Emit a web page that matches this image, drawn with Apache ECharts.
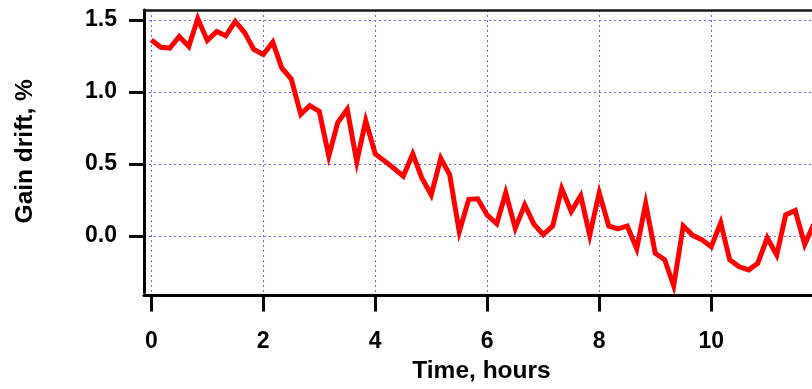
<!DOCTYPE html>
<html>
<head>
<meta charset="utf-8">
<script src="https://cdn.jsdelivr.net/npm/echarts@6/dist/echarts.min.js"></script>
<style>
html,body{margin:0;padding:0;background:#fff;}
#chart{width:812px;height:389px;}
</style>
</head>
<body>
<div id="chart"></div>
<script>
// Time in hours
const timeHours = [0,0.17,0.33,0.5,0.67,0.83,1,1.17,1.33,1.5,1.67,1.83,
  2,2.17,2.33,2.5,2.67,2.83,3,3.17,3.33,3.5,3.67,3.83,
  4,4.17,4.33,4.5,4.67,4.83,5,5.17,5.33,5.5,5.67,5.83,
  6,6.17,6.33,6.5,6.67,6.83,7,7.17,7.33,7.5,7.67,7.83,
  8,8.17,8.33,8.5,8.67,8.83,9,9.17,9.33,9.5,9.67,9.83,
  10,10.17,10.33,10.5,10.67,10.83,11,11.17,11.33,11.5,11.67,11.83];
// Gain drift in %
const gainDrift = [1.36,1.31,1.305,1.385,1.316,1.51,1.358,1.42,1.39,1.49,1.41,1.295,
  1.26,1.345,1.167,1.09,0.845,0.905,0.865,0.555,0.787,0.88,0.515,0.80,
  0.57,0.52,0.47,0.415,0.57,0.405,0.285,0.54,0.425,0.03,0.255,0.258,
  0.145,0.085,0.30,0.055,0.216,0.085,0.01,0.07,0.33,0.17,0.28,0.005,
  0.30,0.07,0.05,0.07,-0.088,0.225,-0.12,-0.165,-0.345,0.07,0.005,-0.025,
  -0.075,0.092,-0.165,-0.214,-0.235,-0.19,-0.012,-0.132,0.147,0.177,-0.058,0.08];
const xTicks = [0,2,4,6,8,10,12];
const yTicks = [0,0.5,1.0,1.5];

const chart = echarts.init(document.getElementById('chart'), null, {renderer:'canvas'});
const FONT = 'Liberation Sans, Arial, sans-serif';
function gridLine(){ return {show:true, lineStyle:{color:'#6666ff', width:1, type:[2,3], opacity:1}}; }

chart.setOption({
  animation:false,
  backgroundColor:'#ffffff',
  grid:{left:144, right:0, top:10, bottom:95, containLabel:false},
  xAxis:[{
    type:'value', min:-0.13, max:11.8, position:'bottom', offset:3,
    name:'Time, hours', nameLocation:'middle', nameGap:68,
    nameTextStyle:{fontFamily:FONT, fontWeight:'bold', fontSize:24.5, lineHeight:16, color:'#000', padding:[0,0,0,7]},
    axisLine:{show:true, onZero:false, lineStyle:{color:'#000', width:3}},
    axisTick:{show:true, inside:false, length:16, lineStyle:{color:'#000', width:3}, customValues:xTicks},
    axisLabel:{show:true, margin:35, fontFamily:FONT, fontWeight:'bold', fontSize:23, color:'#000', customValues:xTicks,
      formatter:function(v){return String(v);}},
    splitLine:gridLine()
  },{
    type:'value', min:-0.13, max:11.8, position:'top',
    axisLine:{show:true, onZero:false, lineStyle:{color:'#1a1a1a', width:2.5}},
    axisTick:{show:false}, axisLabel:{show:false}, splitLine:{show:false}
  }],
  yAxis:{
    type:'value', min:-0.392, max:1.569,
    name:'Gain drift, %', nameLocation:'middle', nameGap:106,
    nameTextStyle:{fontFamily:FONT, fontWeight:'bold', fontSize:24.5, color:'#000'},
    axisLine:{show:true, onZero:false, lineStyle:{color:'#000', width:3}},
    axisTick:{show:true, inside:false, length:15, lineStyle:{color:'#000', width:3}, customValues:yTicks},
    axisLabel:{show:true, margin:27, fontFamily:FONT, fontWeight:'bold', fontSize:23, color:'#000', customValues:yTicks,
      formatter:function(v){return v.toFixed(1);}},
    splitLine:gridLine()
  },
  series:[{
    type:'line', xAxisIndex:0,
    data: timeHours.map((t,i)=>[t, gainDrift[i]]),
    showSymbol:false, symbol:'none',
    lineStyle:{color:'#ff0000', width:5, join:'miter'},
    itemStyle:{color:'#ff0000'}
  }]
});
</script>
</body>
</html>
